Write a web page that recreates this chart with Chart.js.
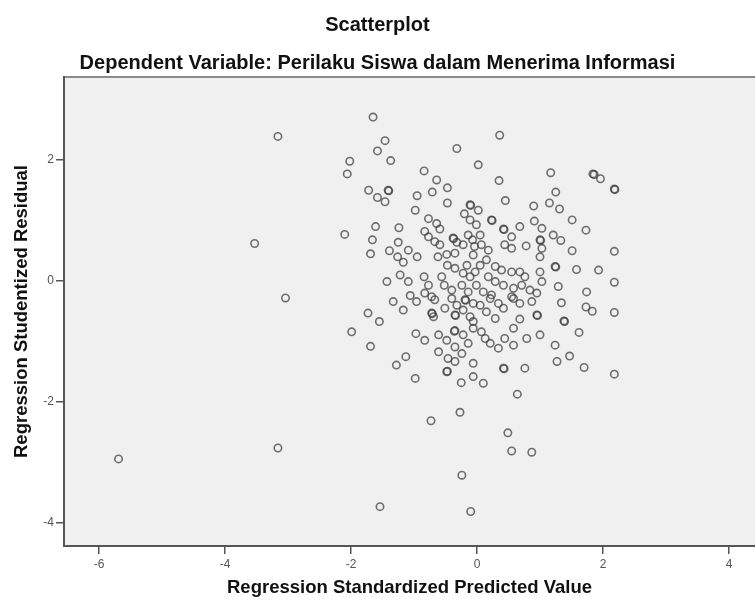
<!DOCTYPE html>
<html>
<head>
<meta charset="utf-8">
<title>Scatterplot</title>
<script src="https://cdn.jsdelivr.net/npm/chart.js@4.4.1/dist/chart.umd.min.js"></script>
<style>
  html, body { margin: 0; padding: 0; background: #ffffff; }
  #wrap { width: 755px; height: 601px; }
</style>
</head>
<body>
<div id="wrap"><canvas id="scatter" width="755" height="601"></canvas></div>
<script>
// Regression Standardized Predicted Value (x)
const predicted = [
  -1.65, -3.16, -1.46, -1.58, -1.37, -2.02, -2.06, -1.41, -1.40, -1.72, -1.58, -1.46, -1.61, -2.10,
  -1.66, -1.39, -1.69, -3.53, -1.43, -3.04, -1.33, -1.73, -1.55, -1.99, -1.69, -3.16, -5.69, -1.54,
  1.84, 1.86, 1.96, 2.18, 2.19, 1.31, 1.51, 1.73, 1.33, 1.51, 2.18, 1.58, 1.93, 2.18, 1.74, 1.34,
  1.73, 1.83, 2.18, 1.38, 1.39, 1.62, 1.47, 1.70, 2.18,
  0.36, -0.32, 0.02, -0.84, 1.17, 0.35, -0.64, -0.47, -0.71, 1.25, -0.95, 0.45, -0.47, -0.11,
  -0.10, 0.02, -0.20, 0.90, 1.15, -0.98,
  -0.77, -0.64, -0.59, -0.11, -1.24, -0.83, -0.77, -0.67, -0.59, -0.38, -0.37, -0.32, -0.22, -0.14,
  -0.07, -1.25, -1.26, -1.17, -1.09, -0.95, -0.62, -0.48, -0.35, -0.47, -0.35, -0.22, -0.11, -0.16,
  -0.06, -0.04, -1.22, -1.09, -0.84, -0.77, -0.56, -0.52, -0.40, -0.24, -0.14, -1.06, -0.83, -0.72,
  -0.01, 0.23, 0.24, 0.42, 0.43, 0.68, 0.91, 1.03, 1.21, 0.55, 0.05, 0.07, 0.18, 0.44, 0.55,
  0.78, 1.00, 1.01, 1.03, 1.00, 1.24, 1.25, 0.15, 0.29, 0.39, 0.55, 0.68, 0.76, 1.00, 1.03,
  0.05, -0.03, 0.18, 0.29, 0.42, 0.58, 0.71, 0.84, 0.95, 1.29, -0.01, 0.10, 0.23, 0.55,
  -1.17, -0.96, -0.67, -0.72, -0.71, -0.69, -0.51, -0.40, -0.35, -0.34, -0.32, -0.22, -0.11,
  -0.19, -0.18, -0.06, -0.97, -0.83, -0.61, -0.48, -0.36, -0.35, -0.35, -0.22, -0.14, -0.24,
  -0.61, -0.46, -0.35, -0.06, -1.13, -1.28, -0.48, -0.47, -0.98, -0.25, -0.06,
  0.05, 0.15, 0.29, 0.21, 0.34, 0.42, 0.58, 0.68, 0.87, 0.95, 0.96, 0.68, 0.58, -0.06, -0.06,
  0.07, 0.13, 0.21, 0.34, 0.44, 0.58, 0.79, 1.00, 1.24, 0.10, 0.42, 0.43, 0.76, 1.27,
  0.64, -0.27, -0.73, 0.49, 0.55, 0.87, -0.24, -0.10
];

// Regression Studentized Residual (y), same order as predicted
const residual = [
  2.71, 2.39, 2.32, 2.15, 1.99, 1.98, 1.77, 1.50, 1.49, 1.50, 1.38, 1.31, 0.90, 0.77,
  0.68, 0.50, 0.45, 0.62, -0.01, -0.28, -0.34, -0.53, -0.67, -0.84, -1.08, -2.76, -2.94, -3.73,
  1.77, 1.76, 1.69, 1.52, 1.51, 1.19, 1.01, 0.84, 0.67, 0.50, 0.49, 0.19, 0.18, -0.02, -0.18, -0.36,
  -0.43, -0.50, -0.52, -0.66, -0.67, -0.85, -1.24, -1.43, -1.54,
  2.41, 2.19, 1.92, 1.82, 1.79, 1.66, 1.67, 1.54, 1.47, 1.47, 1.41, 1.33, 1.29, 1.26,
  1.25, 1.17, 1.11, 1.24, 1.29, 1.17,
  1.03, 0.95, 0.86, 1.01, 0.88, 0.82, 0.73, 0.65, 0.60, 0.71, 0.70, 0.64, 0.60, 0.76,
  0.68, 0.64, 0.40, 0.31, 0.51, 0.40, 0.40, 0.44, 0.46, 0.26, 0.21, 0.13, 0.07, 0.26,
  0.43, 0.57, 0.10, -0.01, 0.07, -0.07, 0.07, -0.07, -0.15, -0.07, -0.18, -0.24, -0.20, -0.26,
  0.93, 1.01, 1.00, 0.86, 0.85, 0.90, 0.99, 0.87, 0.76, 0.73, 0.76, 0.60, 0.51, 0.60, 0.54,
  0.58, 0.68, 0.67, 0.54, 0.40, 0.24, 0.23, 0.35, 0.24, 0.18, 0.15, 0.15, 0.07, 0.15, -0.01,
  0.26, 0.15, 0.07, -0.01, -0.07, -0.12, -0.07, -0.15, -0.20, -0.09, -0.07, -0.18, -0.23, -0.26,
  -0.48, -0.34, -0.31, -0.53, -0.54, -0.59, -0.45, -0.29, -0.56, -0.57, -0.40, -0.48, -0.59,
  -0.31, -0.32, -0.37, -0.87, -0.98, -0.89, -0.98, -0.83, -0.82, -1.09, -0.89, -1.03, -1.20,
  -1.17, -1.28, -1.33, -1.36, -1.25, -1.39, -1.50, -1.49, -1.61, -1.68, -1.58,
  -0.40, -0.51, -0.62, -0.29, -0.37, -0.45, -0.29, -0.37, -0.34, -0.56, -0.57, -0.63, -0.78, -0.67, -0.78,
  -0.84, -0.95, -1.03, -1.11, -0.95, -1.06, -0.95, -0.89, -1.06, -1.69, -1.44, -1.45, -1.44, -1.33,
  -1.87, -2.17, -2.31, -2.51, -2.81, -2.83, -3.21, -3.81
];

const xTickValues = [-6, -4, -2, 0, 2, 4];
const yTickValues = [-4, -2, 0, 2];

const chartTitle = 'Scatterplot';
const chartSubtitle = 'Dependent Variable: Perilaku Siswa dalam Menerima Informasi';
const xTitle = 'Regression Standardized Predicted Value';
const yTitle = 'Regression Studentized Residual';

const FONT = "'Liberation Sans', Arial, sans-serif";

// grey plot area + top frame line
const plotBackground = {
    id: 'plotBackground',
    beforeDraw(chart) {
        const { ctx, chartArea: { left, top, right, bottom } } = chart;
        ctx.save();
        ctx.fillStyle = '#f0f0f0';
        ctx.fillRect(left, top, right - left, bottom - top);
        ctx.strokeStyle = '#8a8a8a';
        ctx.lineWidth = 2;
        ctx.beginPath();
        ctx.moveTo(left, top);
        ctx.lineTo(right, top);
        ctx.stroke();
        ctx.restore();
    }
};

const points = predicted.map((x, i) => ({ x, y: residual[i] }));

new Chart(document.getElementById('scatter'), {
    type: 'scatter',
    data: {
        datasets: [{
            data: points,
            pointStyle: 'circle',
            pointRadius: 3.7,
            pointBorderWidth: 1.6,
            borderColor: 'rgba(60, 60, 60, 0.72)',
            backgroundColor: 'rgba(0, 0, 0, 0)',
            pointHoverRadius: 3.7
        }]
    },
    options: {
        responsive: false,
        animation: false,
        devicePixelRatio: 1,
        layout: { padding: 0, autoPadding: false },
        scales: {
            x: {
                type: 'linear',
                min: -6.556,
                max: 4.413,
                afterBuildTicks: (scale) => { scale.ticks = xTickValues.map(v => ({ value: v })); },
                afterFit: (scale) => { scale.height = 55; },
                ticks: { font: { family: FONT, size: 12 }, color: '#555', padding: 3 },
                grid: { drawOnChartArea: false, drawTicks: true, tickLength: 8, color: '#555', lineWidth: 1.5 },
                border: { display: true, color: '#555', width: 2 },
                title: {
                    display: true, text: xTitle, color: '#111',
                    font: { family: FONT, size: 18.5, weight: 'bold' },
                    padding: { top: 0, bottom: 2 }
                }
            },
            y: {
                type: 'linear',
                min: -4.38,
                max: 3.372,
                afterBuildTicks: (scale) => { scale.ticks = yTickValues.map(v => ({ value: v })); },
                afterFit: (scale) => { scale.width = 64; },
                ticks: { font: { family: FONT, size: 12 }, color: '#555', padding: 2 },
                grid: { drawOnChartArea: false, drawTicks: true, tickLength: 8, color: '#555', lineWidth: 1.5 },
                border: { display: true, color: '#555', width: 2 },
                title: {
                    display: true, text: yTitle, color: '#111',
                    font: { family: FONT, size: 18.5, weight: 'bold' },
                    padding: { top: 11, bottom: 0 }
                }
            }
        },
        plugins: {
            legend: { display: false },
            tooltip: { enabled: false },
            title: {
                display: true, text: chartTitle, color: '#111',
                font: { family: FONT, size: 20, weight: 'bold' },
                padding: { top: 13, bottom: 14 }
            },
            subtitle: {
                display: true, text: chartSubtitle, color: '#111',
                font: { family: FONT, size: 20, weight: 'bold' },
                padding: { top: 0, bottom: 2 }
            }
        }
    },
    plugins: [plotBackground]
});
</script>
</body>
</html>
